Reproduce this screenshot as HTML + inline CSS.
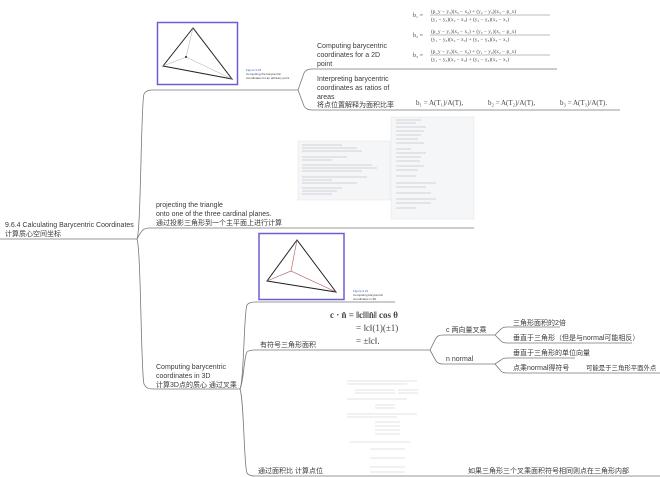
<!DOCTYPE html>
<html><head><meta charset="utf-8"><style>
html,body{margin:0;padding:0;background:#fff;}
svg{display:block;}
text{font-family:"Liberation Sans","Noto Sans CJK SC",sans-serif;font-size:7px;fill:#3a3a3a;}
.m{font-family:"Liberation Serif",serif;fill:#444;}
</style></head><body>
<svg width="660" height="477" viewBox="0 0 660 477" xmlns="http://www.w3.org/2000/svg">
<g fill="none" stroke="#777" stroke-width="0.8">
<line x1="0" y1="239" x2="137" y2="239"/>
<path d="M137 239 C141 230 141 100 144 94 Q146 90 152 90 L298 90"/>
<path d="M137 239 C141 232 142 228 150 228 L474 228"/>
<path d="M137 239 C141 250 141 375 144 384 Q146 389 152 389 L240 389"/>
<path d="M298 90 L304 73 Q306 69 312 69 L557 69"/>
<path d="M298 90 L304 106 Q306 110 312 110 L620 110"/>
<path d="M240 389 C244 380 244 310 247 305 Q249 302 255 302 L395 302"/>
<path d="M240 389 C244 380 244 356 247 352 Q249 350 255 350 L430 350"/>
<path d="M240 389 C244 400 244 468 247 473 Q249 476 255 476 L660 476"/>
<path d="M430 350 L436 338 Q438 335 443 335 L495 335"/>
<path d="M430 350 L436 361 Q438 364 443 364 L495 364"/>
<path d="M495 335 L501 329 Q503 327 507 327 L560 327"/>
<path d="M495 335 L501 341 Q503 343 507 343 L632 343"/>
<path d="M495 364 L501 360 Q503 358 507 358 L575 358"/>
<path d="M495 364 L501 371 Q503 373 507 373 L660 373"/>
</g>
<text x="5" y="227">9.6.4 Calculating Barycentric Coordinates</text>
<text x="5" y="236">计算质心空间坐标</text>
<rect x="157.5" y="22.5" width="80" height="62" fill="#fff" stroke="#6b5fd6" stroke-width="1.5"/>
<polygon points="193,28 163,66 232,79" fill="none" stroke="#222" stroke-width="1"/>
<path d="M163,66 L186,57 L232,79 M186,57 L193,28" fill="none" stroke="#aaa" stroke-width="0.5"/>
<circle cx="186" cy="57" r="1" fill="#222"/>
<text x="246" y="71" style="font-size:3px;fill:#36c">Figure 9.18</text>
<text x="246" y="75" style="font-size:3px">Computing the barycentric</text>
<text x="246" y="79" style="font-size:3px">coordinates for an arbitrary point</text>
<text x="317" y="48">Computing barycentric</text>
<text x="317" y="57">coordinates for a 2D</text>
<text x="317" y="66">point</text>
<text x="317" y="81">Interpreting barycentric</text>
<text x="317" y="90">coordinates as ratios of</text>
<text x="317" y="99">areas</text>
<text x="317" y="107">将点位置解释为面积比率</text>
<text x="413" y="17" class="m" style="font-size:6px">b₁ =</text>
<text x="431" y="13" class="m" style="font-size:5.3px">(p_y − y₃)(x₂ − x₃) + (y₂ − y₃)(x₃ − p_x)</text>
<line x1="430" y1="15" x2="550" y2="15" stroke="#555" stroke-width="0.4"/>
<text x="431" y="21" class="m" style="font-size:5.3px">(y₁ − y₃)(x₂ − x₃) + (y₂ − y₃)(x₃ − x₁)</text>
<text x="413" y="37" class="m" style="font-size:6px">b₂ =</text>
<text x="431" y="33" class="m" style="font-size:5.3px">(p_y − y₁)(x₃ − x₁) + (y₃ − y₁)(x₁ − p_x)</text>
<line x1="430" y1="35" x2="550" y2="35" stroke="#555" stroke-width="0.4"/>
<text x="431" y="41" class="m" style="font-size:5.3px">(y₁ − y₃)(x₂ − x₃) + (y₂ − y₃)(x₃ − x₁)</text>
<text x="413" y="57" class="m" style="font-size:6px">b₃ =</text>
<text x="431" y="53" class="m" style="font-size:5.3px">(p_y − y₂)(x₁ − x₂) + (y₁ − y₂)(x₂ − p_x)</text>
<line x1="430" y1="55" x2="550" y2="55" stroke="#555" stroke-width="0.4"/>
<text x="431" y="61" class="m" style="font-size:5.3px">(y₁ − y₃)(x₂ − x₃) + (y₂ − y₃)(x₃ − x₁)</text>
<text x="416" y="105" class="m" style="font-size:7px">b₁ = A(T₁)/A(T),</text>
<text x="488" y="105" class="m" style="font-size:7px">b₂ = A(T₂)/A(T),</text>
<text x="560" y="105" class="m" style="font-size:7px">b₃ = A(T₃)/A(T).</text>
<rect x="298" y="141" width="92" height="59" fill="#f5f6f7" stroke="#e2e2e2" stroke-width="0.5"/>
<rect x="391" y="117" width="83" height="102" fill="#f5f6f7" stroke="#e2e2e2" stroke-width="0.5"/>
<g stroke="#c4c8d0" stroke-width="0.7">
<path d="M302 145h40M302 148h55M302 151h60M302 157h45M302 160h30M302 165h70M302 168h75M302 171h60M302 177h65M302 180h30M302 183h55M302 188h40M302 191h35M302 194h30"/>
<path d="M396 120h25M396 123h20M396 127h30M396 131h28M396 135h25M396 139h22M396 143h28M396 149h15M396 153h30M396 157h25M396 161h24M396 166h28M396 170h22M396 176h20M396 183h40M396 187h30M396 193h35M396 199h40M396 203h35M396 208h20"/>
</g>
<text x="156" y="207">projecting the triangle</text>
<text x="156" y="216">onto one of the three cardinal planes.</text>
<text x="156" y="225">通过投影三角形到一个主平面上进行计算</text>
<rect x="259" y="233.5" width="85" height="66" fill="#fff" stroke="#6b5fd6" stroke-width="1.5"/>
<polygon points="297,240 267,281 336,292" fill="none" stroke="#222" stroke-width="1"/>
<path d="M267,281 L291,271 L336,292 M291,271 L297,240" fill="none" stroke="#a55" stroke-width="0.6"/>
<text x="353" y="292" style="font-size:3px;fill:#36c">Figure 9.21</text>
<text x="353" y="296" style="font-size:3px">Computing barycentric</text>
<text x="353" y="300" style="font-size:3px">coordinates in 3D</text>
<text x="330" y="318" class="m" style="font-size:9px;font-weight:bold">c · n̂ = ‖c‖‖n̂‖ cos θ</text>
<text x="356" y="331" class="m" style="font-size:9px">= ‖c‖(1)(±1)</text>
<text x="356" y="344" class="m" style="font-size:9px">= ±‖c‖.</text>
<text x="260" y="347">有符号三角形面积</text>
<text x="446" y="332">c 两向量叉乘</text>
<text x="446" y="361">n  normal</text>
<text x="513" y="325">三角形面积的2倍</text>
<text x="513" y="340">垂直于三角形（但是与normal可能相反）</text>
<text x="513" y="355">垂直于三角形的单位向量</text>
<text x="513" y="370">点乘normal得符号</text>
<text x="586" y="370" style="font-size:6.4px">可能是于三角形平面外点</text>
<text x="156" y="369">Computing barycentric</text>
<text x="156" y="378">coordinates in 3D</text>
<text x="156" y="387">计算3D点的质心 通过叉乘</text>
<g stroke="#c8c8c8" stroke-width="0.6">
<path d="M347 381h70M347 384h60M355 390h20M375 390h20M398 390h20M355 393h20M375 393h20M398 393h20M347 399h60M375 405h20M375 408h20M347 414h70M347 417h50M375 422h25M375 426h25M375 430h25M375 434h25M350 442h60M370 449h35M370 458h35M370 467h35M370 472h35"/>
</g>
<text x="258" y="473">通过面积比 计算点位</text>
<text x="468" y="473">如果三角形三个叉乘面积符号相同则点在三角形内部</text>
</svg>
</body></html>
